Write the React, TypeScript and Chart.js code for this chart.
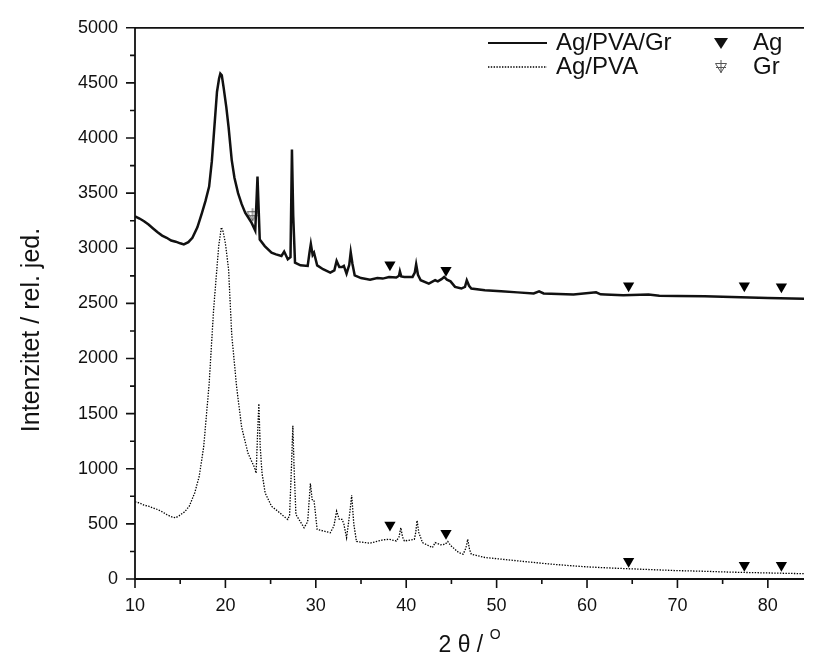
import React, { useEffect, useRef } from "react";
import { Chart, registerables } from "chart.js";
Chart.register(...registerables);

// ---- data ----
const xTickVals = [10, 20, 30, 40, 50, 60, 70, 80];
const yTickVals = [0, 500, 1000, 1500, 2000, 2500, 3000, 3500, 4000, 4500, 5000];

const grX = [10, 10.5, 11, 11.5, 12, 12.5, 13, 13.5, 14, 14.5, 15, 15.4, 15.9, 16.35, 16.9, 17.4, 17.8, 18.2, 18.5, 18.7, 19.07, 19.3, 19.44, 19.6, 19.8, 20.1, 20.35, 20.7, 21.0, 21.4, 21.8, 22.2, 22.6, 22.9, 23.3, 23.45, 23.55, 23.65, 23.8, 24.35, 25.1, 25.6, 26.2, 26.5, 26.9, 27.2, 27.36, 27.5, 27.7, 28.3, 29.1, 29.3, 29.45, 29.65, 29.8, 30.15, 30.8, 31.6, 32.05, 32.3, 32.6, 32.9, 33.1, 33.4, 33.7, 33.86, 34.05, 34.3, 35.0, 36.0, 36.8, 37.4, 38.1, 38.9, 39.2, 39.3, 39.45, 39.8, 40.7, 40.95, 41.1, 41.3, 41.6, 42.5, 43.2, 43.5, 43.9, 44.2, 44.5, 44.9, 45.4, 46.1, 46.5, 46.7, 46.95, 47.2, 48.7, 50.5, 52.3, 54.1, 54.7, 55.2, 58.5, 61.0, 61.5, 62, 64, 66.8, 68, 70, 73, 76, 80, 84];
const grY = [3290, 3270, 3245, 3215, 3180, 3145, 3115, 3095, 3070, 3060, 3045, 3035, 3055, 3095, 3190, 3320, 3430, 3560, 3790, 4010, 4420, 4540, 4585, 4570, 4460, 4280, 4100, 3800, 3640, 3500, 3400, 3320, 3270, 3230, 3160, 3450, 3650, 3420, 3080, 3020, 2960, 2945, 2930, 2970, 2900, 2920, 3895, 3300, 2870, 2845, 2840, 2960, 3040, 2940, 2960, 2845, 2810, 2780, 2800, 2885, 2830, 2830, 2840, 2770, 2850, 2965, 2860, 2755, 2730, 2715, 2730, 2725, 2740, 2735, 2750, 2790, 2745, 2740, 2740, 2780, 2855, 2760, 2710, 2680, 2710, 2700, 2720, 2740, 2715, 2700, 2650, 2635, 2650, 2710, 2660, 2635, 2620, 2610, 2600, 2590, 2610, 2590, 2580, 2600, 2582, 2580, 2575, 2580, 2570, 2568, 2565, 2558, 2550, 2543];

const pvaX = [10, 10.5, 11, 11.5, 12, 12.5, 13, 13.5, 14, 14.5, 14.9, 15.5, 16.0, 16.6, 17.1, 17.6, 18.2, 18.7, 19.26, 19.55, 19.75, 19.99, 20.35, 20.7, 21.25, 21.8, 22.5, 23.2, 23.4, 23.55, 23.7, 23.85, 24.05, 24.4, 25.1, 25.8, 26.3, 26.9, 27.1, 27.3, 27.46, 27.6, 27.8, 28.7, 29.1, 29.4, 29.6, 29.8, 30.15, 31.6, 32.0, 32.3, 32.6, 32.9, 33.1, 33.4, 33.7, 33.97, 34.2, 34.5, 36.0, 37.4, 38.1, 38.9, 39.2, 39.4, 39.6, 39.8, 40.9, 41.05, 41.2, 41.4, 41.8, 42.9, 43.2, 43.8, 44.3, 44.6, 44.9, 45.8, 46.3, 46.6, 46.8, 47.0, 47.2, 48.7, 50.5, 52.3, 54.1, 56, 58, 60, 63, 65, 68, 70, 73, 76, 80, 84];
const pvaY = [700, 690, 670, 660, 645, 630, 610, 585, 565, 555, 575, 610, 660, 780, 930, 1200, 1770, 2450, 3020, 3190, 3150, 3050, 2810, 2215, 1735, 1375, 1140, 1015, 960, 1300, 1590, 1200, 960, 780, 660, 615, 580, 540, 580, 1000, 1390, 1000, 585, 465, 520, 865, 720, 715, 450, 420, 480, 615, 540, 540, 500, 375, 560, 760, 500, 340, 325, 355, 360, 345, 380, 465, 380, 345, 360, 420, 530, 420, 330, 285, 330, 310, 315, 340, 305, 240, 225, 280, 360, 270, 225, 195, 180, 165, 150, 135, 122, 110, 98, 92, 82, 76, 70, 62, 55, 48];

const agMarkX = [38.2, 44.4, 64.6, 77.4, 81.5];
const agMarkTopY = [2850, 2800, 2660, 2660, 2650];
const agMarkBotY = [490, 415, 160, 125, 125];
const grMarkX = [23.0];
const grMarkY = [3300];

const seriesNames = ["Ag/PVA/Gr", "Ag/PVA"];
const markerNames = ["Ag", "Gr"];
const yTitle = "Intenzitet / rel. jed.";
const xTitleMain = "2 θ / ";
const xTitleSup = "O";

const FONT = "'Liberation Sans', Arial, Helvetica, sans-serif";

function makeGrSymbol(): HTMLCanvasElement {
  const c = document.createElement("canvas");
  c.width = 16;
  c.height = 16;
  const g = c.getContext("2d")!;
  g.strokeStyle = "#555";
  g.lineWidth = 1;
  g.beginPath();
  g.moveTo(2.5, 4.5);
  g.lineTo(13.5, 4.5);
  g.lineTo(8, 13.5);
  g.closePath();
  g.moveTo(8, 1);
  g.lineTo(8, 14);
  g.moveTo(3, 8.5);
  g.lineTo(13, 8.5);
  g.stroke();
  return c;
}

export default function App() {
  const ref = useRef<HTMLCanvasElement>(null);
  useEffect(() => {
    const grSym = makeGrSymbol();
    const pts = (xs: number[], ys: number[]) => xs.map((x, i) => ({ x, y: ys[i] }));

    const overlay = {
      id: "overlay",
      afterDatasetsDraw(chart: any) {
        const ctx = chart.ctx;
        const xs = chart.scales.x;
        const ys = chart.scales.y;
        const { left, right, top, bottom } = chart.chartArea;
        ctx.save();
        ctx.strokeStyle = "#111";
        ctx.lineWidth = 1.8;
        ctx.beginPath();
        ctx.moveTo(left, top);
        ctx.lineTo(right, top);
        ctx.moveTo(left, top);
        ctx.lineTo(left, bottom);
        ctx.lineTo(right, bottom);
        ctx.stroke();
        ctx.lineWidth = 1.6;
        ctx.beginPath();
        for (let v = 10; v <= 84; v += 5) {
          const px = xs.getPixelForValue(v);
          const len = v % 10 === 0 ? 9 : 5;
          ctx.moveTo(px, bottom);
          ctx.lineTo(px, bottom + len);
        }
        for (let v = 0; v <= 5000; v += 250) {
          const py = ys.getPixelForValue(v);
          const len = v % 500 === 0 ? 9 : 5;
          ctx.moveTo(left, py);
          ctx.lineTo(left - len, py);
        }
        ctx.stroke();

        // axis titles
        ctx.fillStyle = "#111";
        ctx.textAlign = "center";
        ctx.textBaseline = "middle";
        ctx.font = `25px ${FONT}`;
        ctx.save();
        ctx.translate(32, 330);
        ctx.rotate(-Math.PI / 2);
        ctx.fillText(yTitle, 0, 0);
        ctx.restore();

        ctx.font = `23px ${FONT}`;
        const wMain = ctx.measureText(xTitleMain).width;
        ctx.font = `14px ${FONT}`;
        const wSup = ctx.measureText(xTitleSup).width;
        const cx = (left + right) / 2;
        const startX = cx - (wMain + wSup) / 2;
        ctx.textAlign = "left";
        ctx.font = `23px ${FONT}`;
        ctx.fillText(xTitleMain, startX, 646);
        ctx.font = `14px ${FONT}`;
        ctx.fillText(xTitleSup, startX + wMain, 635);

        // legend
        const r1 = 43, r2 = 67;
        ctx.lineWidth = 2.2;
        ctx.strokeStyle = "#111";
        ctx.beginPath();
        ctx.moveTo(488, r1);
        ctx.lineTo(547, r1);
        ctx.stroke();
        ctx.lineWidth = 1.3;
        ctx.strokeStyle = "#000";
        ctx.setLineDash([1.4, 1.4]);
        ctx.beginPath();
        ctx.moveTo(488, r2);
        ctx.lineTo(547, r2);
        ctx.stroke();
        ctx.setLineDash([]);
        ctx.font = `24px ${FONT}`;
        ctx.textAlign = "left";
        ctx.fillStyle = "#111";
        ctx.fillText(seriesNames[0], 556, r1);
        ctx.fillText(seriesNames[1], 556, r2);
        ctx.fillText(markerNames[0], 753, r1);
        ctx.fillText(markerNames[1], 753, r2);
        ctx.beginPath();
        ctx.moveTo(714, r1 - 5);
        ctx.lineTo(728, r1 - 5);
        ctx.lineTo(721, r1 + 6);
        ctx.closePath();
        ctx.fill();
        ctx.drawImage(grSym, 713, r2 - 8);
        ctx.restore();
      },
    };

    const c = new Chart(ref.current!, {
      type: "scatter",
      data: {
        datasets: [
          {
            label: seriesNames[0],
            data: pts(grX, grY),
            showLine: true,
            borderColor: "#111",
            borderWidth: 2.5,
            pointRadius: 0,
            tension: 0,
          },
          {
            label: seriesNames[1],
            data: pts(pvaX, pvaY),
            showLine: true,
            borderColor: "#000",
            borderWidth: 1.3,
            borderDash: [1.4, 1.4],
            pointRadius: 0,
            tension: 0,
          },
          {
            label: markerNames[0],
            data: [...pts(agMarkX, agMarkTopY), ...pts(agMarkX, agMarkBotY)],
            showLine: false,
            pointStyle: "triangle",
            rotation: 180,
            pointRadius: 6.5,
            backgroundColor: "#000",
            borderColor: "#000",
            borderWidth: 0,
          },
          {
            label: markerNames[1],
            data: pts(grMarkX, grMarkY),
            showLine: false,
            pointStyle: grSym as any,
            pointRadius: 8,
          },
        ],
      },
      options: {
        animation: false,
        responsive: false,
        devicePixelRatio: 1,
        layout: { padding: { left: 0, right: 0, top: 23, bottom: 0 } },
        plugins: { legend: { display: false }, tooltip: { enabled: false } },
        scales: {
          x: {
            type: "linear",
            min: 10,
            max: 84,
            afterBuildTicks: (s: any) => {
              s.ticks = xTickVals.map((v) => ({ value: v }));
            },
            afterFit: (s: any) => {
              s.height = 667 - 579;
            },
            grid: { display: false, drawTicks: false },
            border: { display: false },
            ticks: {
              color: "#111",
              font: { size: 18, family: FONT },
              padding: 16,
              maxRotation: 0,
              autoSkip: false,
              callback: (v: any) => String(v),
            },
          },
          y: {
            type: "linear",
            min: 0,
            max: 5000,
            afterBuildTicks: (s: any) => {
              s.ticks = yTickVals.map((v) => ({ value: v }));
            },
            afterFit: (s: any) => {
              s.width = 135;
            },
            grid: { display: false, drawTicks: false },
            border: { display: false },
            ticks: {
              color: "#111",
              font: { size: 18, family: FONT },
              padding: 17,
              autoSkip: false,
              callback: (v: any) => String(v),
            },
          },
        },
      },
      plugins: [overlay],
    });
    return () => c.destroy();
  }, []);
  return (
    <div style={{ position: "absolute", left: 0, top: 0, width: 813, height: 667, background: "#fff" }}>
      <canvas ref={ref} width={813} height={667} style={{ display: "block", width: 813, height: 667 }} />
    </div>
  );
}
